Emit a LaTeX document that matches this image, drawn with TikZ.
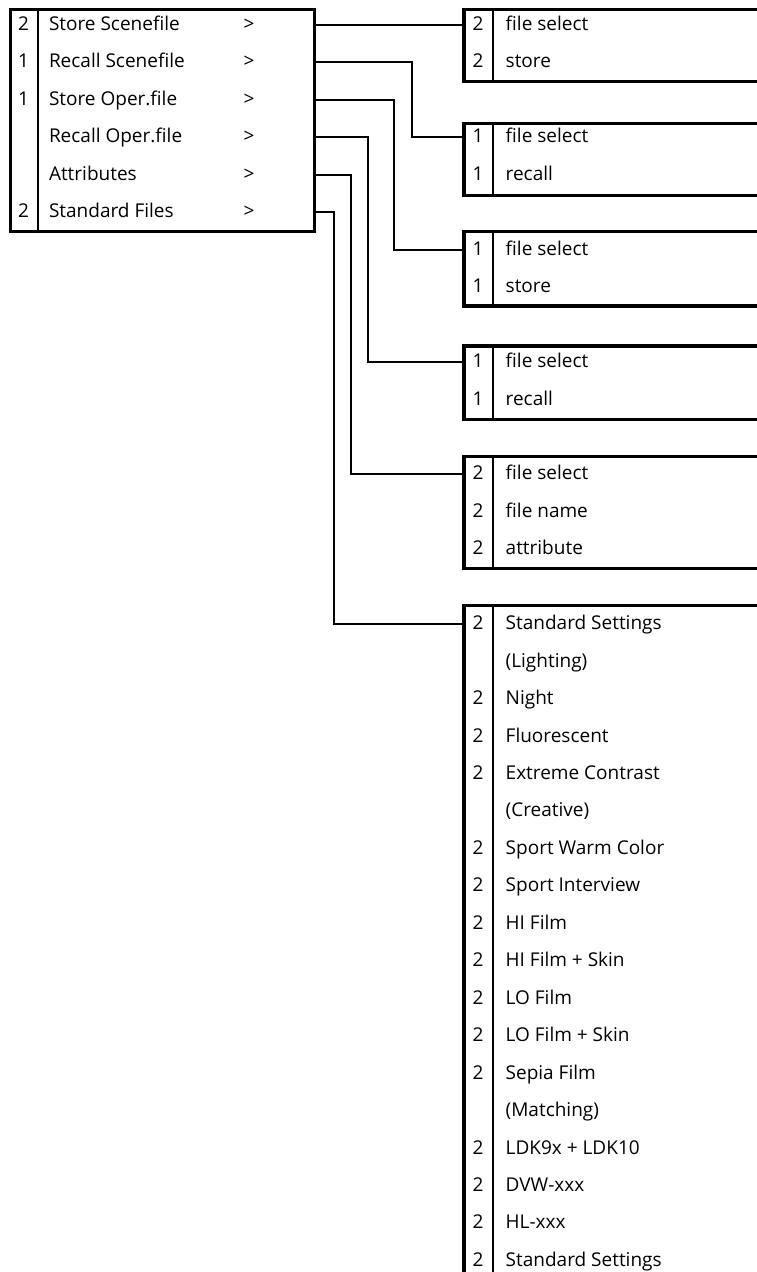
\documentclass[tikz,border=0pt]{standalone}
\usepackage{fontspec}
\setmainfont{Open Sans}
\tikzset{
  boxline/.style={draw, line width=3.2pt, inner sep=0pt, anchor=north west},
  divline/.style={line width=2pt},
  conn/.style={line width=2pt},
  lbl/.style={inner sep=0pt, font=\fontsize{19}{22}\selectfont},
}
\begin{document}
\begin{tikzpicture}[x=1pt,y=-1pt]
\useasboundingbox (0,0) rectangle (757,1272);
\fill[white] (0,0) rectangle (757,1272);
\clip (0,0) rectangle (757,1272);
% main menu
\node[boxline, minimum width=304pt, minimum height=222.3pt] (menu) at (9,7.7) {};
\draw[divline] (37.7,7.7) -- (37.7,230);
\foreach \k/\n/\t in {0/2/Store Scenefile,1/1/Recall Scenefile,2/1/Store Oper.file,3//Recall Oper.file,4//Attributes,5/2/Standard Files}{
  \pgfmathsetmacro\yy{25+37.45*\k}
  \node[lbl, anchor=base] (mn\k) at (23.5,\yy+5.5) {\n};
  \node[lbl, anchor=base west] (mt\k) at (48.8,\yy+5.5) {\t};
  \node[lbl, anchor=base] (ma\k) at (249,\yy+5.5) {>};
  \coordinate (m\k) at (313,\yy);
}
% sub boxes
\foreach \b/\tp/\bt/\k in {1/7.7/80/0, 2/121.7/194/3, 3/230/304.3/6, 4/344.3/417.7/9, 5/455/567/12, 6/603.7/1300/16}{
  \node[boxline, minimum width=330pt, minimum height={\bt-\tp}] (B\b) at (462.3,\tp) {};
  \draw[divline] (493,\tp) -- (493,\bt);
  \pgfmathsetmacro\yy{25+37.45*\k}
  \coordinate (b\b) at (462.3,\yy);
}
\foreach \k/\n/\t in {0/2/file select, 1/2/store, 3/1/file select, 4/1/recall, 6/1/file select, 7/1/store, 9/1/file select, 10/1/recall, 12/2/file select, 13/2/file name, 14/2/attribute, 16/2/Standard Settings, 17//{(Lighting)}, 18/2/Night, 19/2/Fluorescent, 20/2/Extreme Contrast, 21//{(Creative)}, 22/2/Sport Warm Color, 23/2/Sport Interview, 24/2/HI Film, 25/2/HI Film + Skin, 26/2/LO Film, 27/2/LO Film + Skin, 28/2/Sepia Film, 29//{(Matching)}, 30/2/LDK9x + LDK10, 31/2/DVW-xxx, 32/2/HL-xxx, 33/2/Standard Settings}{
  \pgfmathsetmacro\yy{25+37.45*\k}
  \node[lbl, anchor=base] (rn\k) at (478,\yy+5.5) {\n};
  \node[lbl, anchor=base west] (rt\k) at (505.5,\yy+5.5) {\t};
}
% connectors
\coordinate (j2) at (412.3,0);
\coordinate (j3) at (394,0);
\coordinate (j4) at (368.3,0);
\coordinate (j5) at (351,0);
\coordinate (j6) at (334,0);
\draw[conn] (m0) -- (b1);
\draw[conn] (m1) -| (j2 |- b2) -- (b2);
\draw[conn] (m2) -| (j3 |- b3) -- (b3);
\draw[conn] (m3) -| (j4 |- b4) -- (b4);
\draw[conn] (m4) -| (j5 |- b5) -- (b5);
\draw[conn] (m5) -| (j6 |- b6) -- (b6);
\end{tikzpicture}
\end{document}
